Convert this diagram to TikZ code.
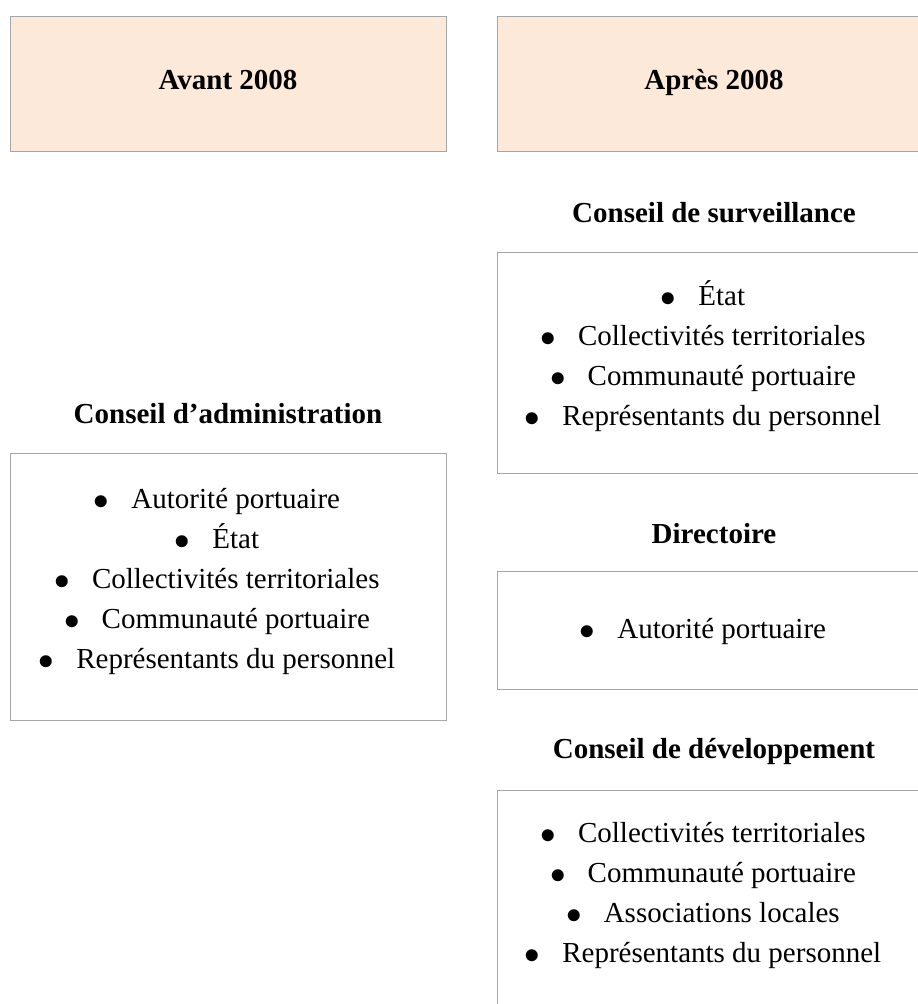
\documentclass[tikz,border=0pt]{standalone}
\usepackage{fontspec}
\setmainfont{Liberation Serif}
\usepackage{tikz}
\usetikzlibrary{positioning}
\definecolor{peche}{HTML}{FDE9D9}
\definecolor{grisbord}{HTML}{A6A6A6}
\newcommand{\puce}{\raisebox{-1.2pt}{\scalebox{1.25}{$\bullet$}}\hspace{22pt}}
\tikzset{
  cadre/.style={draw=grisbord, line width=1pt},
  titre/.style={anchor=base, inner sep=0pt, font=\fontsize{29}{35}\selectfont\bfseries},
  item/.style={anchor=base, inner sep=0pt, font=\fontsize{29}{35}\selectfont},
}

\begin{document}
\begin{tikzpicture}[x=1pt,y=-1pt]
\clip (0,0) rectangle (918,1004);
\fill[white] (0,0) rectangle (918,1004);
% en-tetes
\draw[cadre, fill=peche] (10,16) rectangle (446,151);
\draw[cadre, fill=peche] (497,16) rectangle (931,151);
\node[titre] (avant) at (228,89) {Avant 2008};
\node[titre] (apres) at (714,89) {Après 2008};
% avant 2008
\node[titre] (ca) at (228,423) {Conseil d’administration};
\draw[cadre] (10,453) rectangle (446,720);
\node[item] (ca1) at (217,508) {\puce Autorité portuaire};
\node[item] (ca2) at (217,548) {\puce État};
\node[item] (ca3) at (217,588) {\puce Collectivités territoriales};
\node[item] (ca4) at (217,628) {\puce Communauté portuaire};
\node[item] (ca5) at (217,668) {\puce Représentants du personnel};
% apres 2008
\node[titre] (cs) at (714,222) {Conseil de surveillance};
\draw[cadre] (497,252) rectangle (931,473);
\node[item] (cs1) at (703,305) {\puce État};
\node[item] (cs2) at (703,345) {\puce Collectivités territoriales};
\node[item] (cs3) at (703,385) {\puce Communauté portuaire};
\node[item] (cs4) at (703,425) {\puce Représentants du personnel};
\node[titre] (dir) at (714,543) {Directoire};
\draw[cadre] (497,571) rectangle (931,689);
\node[item] (dir1) at (703,638) {\puce Autorité portuaire};
\node[titre] (cd) at (714,758) {Conseil de développement};
\draw[cadre] (497,790) rectangle (931,1030);
\node[item] (cd1) at (703,842) {\puce Collectivités territoriales};
\node[item] (cd2) at (703,882) {\puce Communauté portuaire};
\node[item] (cd3) at (703,922) {\puce Associations locales};
\node[item] (cd4) at (703,962) {\puce Représentants du personnel};
\end{tikzpicture}
\end{document}
